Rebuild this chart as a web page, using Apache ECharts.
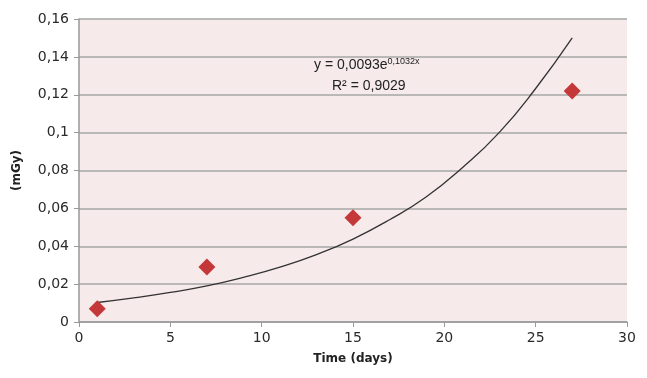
<!DOCTYPE html>
<html><head><meta charset="utf-8">
<script src="https://cdn.jsdelivr.net/npm/echarts@6/dist/echarts.min.js"></script>
<style>html,body{margin:0;padding:0;background:#fff}#c{width:647px;height:378px}</style>
</head><body><div id="c"></div>
<script>
// Measured points
const days = [1, 7, 15, 27];
const doses = [0.007, 0.029, 0.055, 0.122];
// Trend line
const trendX = [1, 3, 5, 7, 9, 11, 13, 15, 17, 19, 21, 23, 25, 27];
const trendY = [0.0103, 0.0127, 0.0156, 0.0191, 0.0236, 0.029, 0.0356, 0.0438, 0.054, 0.066, 0.0816, 0.100, 0.1233, 0.150];
const xTicks = ['0','5','10','15','20','25','30'];
const yTicks = ['0','0,02','0,04','0,06','0,08','0,1','0,12','0,14','0,16'];

const chart = echarts.init(document.getElementById('c'));
const fontFam = '"DejaVu Sans", Verdana, sans-serif';
chart.setOption({
  animation: false,
  grid: {left: 79, right: 20, top: 19, bottom: 56, backgroundColor: '#f6eaea', show: true, borderWidth: 0},
  xAxis: {
    type: 'value', min: 0, max: 30, interval: 5,
    name: 'Time (days)', nameLocation: 'middle', nameGap: 31,
    nameTextStyle: {fontFamily: fontFam, fontWeight: 'bold', fontSize: 12, color: '#222'},
    axisLine: {show: true, lineStyle: {color: '#999', width: 1.5}},
    axisTick: {show: true, length: 5, inside: false, lineStyle: {color: '#999'}},
    splitLine: {show: false},
    axisLabel: {fontFamily: fontFam, fontSize: 14, color: '#2a2a2a', margin: 9,
      formatter: v => xTicks[Math.round(v / 5)]}
  },
  yAxis: {
    type: 'value', min: 0, max: 0.16, interval: 0.02,
    name: '(mGy)', nameLocation: 'middle', nameGap: 56, nameRotate: 90,
    nameTextStyle: {fontFamily: fontFam, fontWeight: 'bold', fontSize: 12, color: '#222'},
    axisLine: {show: true, lineStyle: {color: '#999', width: 1.5}},
    axisTick: {show: true, length: 5, lineStyle: {color: '#999'}},
    splitLine: {show: true, lineStyle: {color: '#a6a6a6', width: 1.5}},
    axisLabel: {fontFamily: fontFam, fontSize: 14, color: '#2a2a2a', margin: 10,
      formatter: v => yTicks[Math.round(v / 0.02)]}
  },
  series: [
    {
      type: 'line', data: trendX.map((x, i) => [x, trendY[i]]), smooth: true,
      showSymbol: false, lineStyle: {color: '#333', width: 1.3}, z: 2
    },
    {
      type: 'scatter', data: days.map((d, i) => [d, doses[i]]),
      symbol: 'diamond', symbolSize: [17, 17],
      itemStyle: {color: '#c4383a', opacity: 1}, z: 3
    }
  ],
  graphic: [{
    type: 'text', left: 314, top: 57,
    style: {
      text: '{a|y = 0,0093e}{s|0,1032x}',
      rich: {
        a: {fontFamily: '"Liberation Sans Narrow", "Liberation Sans", sans-serif', fontSize: 14, fill: '#222'},
        s: {fontFamily: '"Liberation Sans Narrow", "Liberation Sans", sans-serif', fontSize: 9, fill: '#222', verticalAlign: 'top', padding: [0,0,8,0]}
      }
    }
  }, {
    type: 'text', left: 332, top: 79,
    style: {text: 'R² = 0,9029', fontFamily: '"Liberation Sans Narrow", "Liberation Sans", sans-serif', fontSize: 14, fill: '#222'}
  }]
});
</script></body></html>
